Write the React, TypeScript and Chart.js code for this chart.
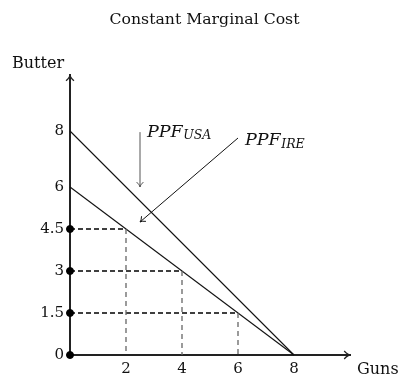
import React, { useEffect, useRef } from "react";
import { Chart, registerables } from "chart.js";

Chart.register(...registerables);

// ---- Data ----
const titleText = "Constant Marginal Cost";
const xAxisLabel = "Guns";
const yAxisLabel = "Butter";
const axisMin = 0;
const axisMax = 10;
const xTicks = [2, 4, 6, 8];
const yTicks = [0, 1.5, 3, 4.5, 6, 8];
const ppfGuns = [0, 8];
const usaButter = [8, 0];
const ireButter = [6, 0];
const tradeGuns = [2, 4, 6];
const tradeButter = [4.5, 3, 1.5];
const dotButter = [0, 1.5, 3, 4.5];
const usaLabel = ["PPF", "USA"];
const ireLabel = ["PPF", "IRE"];
const usaArrowFrom = [2.5, 7.96];
const usaArrowTo = [2.5, 6.0];
const ireArrowFrom = [6.0, 7.75];
const ireArrowTo = [2.5, 4.75];
const usaLabelAt = [2.75, 7.8];
const ireLabelAt = [6.25, 7.5];

const FONT = '"DejaVu Serif", "Liberation Serif", serif';

function arrowHead(ctx: CanvasRenderingContext2D, fx: number, fy: number, tx: number, ty: number, len: number) {
  const ang = Math.atan2(ty - fy, tx - fx);
  const spread = 0.6;
  ctx.beginPath();
  ctx.moveTo(tx - len * Math.cos(ang - spread), ty - len * Math.sin(ang - spread));
  ctx.quadraticCurveTo(tx - len * 0.3 * Math.cos(ang), ty - len * 0.3 * Math.sin(ang), tx, ty);
  ctx.quadraticCurveTo(tx - len * 0.3 * Math.cos(ang), ty - len * 0.3 * Math.sin(ang), tx - len * Math.cos(ang + spread), ty - len * Math.sin(ang + spread));
  ctx.stroke();
}

const decorPlugin = {
  id: "decor",
  afterDraw(chart: any) {
    const ctx: CanvasRenderingContext2D = chart.ctx;
    const xs = chart.scales.x;
    const ys = chart.scales.y;
    const area = chart.chartArea;
    const px = (v: number) => xs.getPixelForValue(v);
    const py = (v: number) => ys.getPixelForValue(v);
    ctx.save();
    // axis arrowheads
    ctx.strokeStyle = "#222";
    ctx.lineWidth = 1.3;
    arrowHead(ctx, area.left, area.bottom, area.right, area.bottom, 7);
    arrowHead(ctx, area.left, area.bottom, area.left, area.top, 7);

    // annotation arrows
    ctx.lineWidth = 1;
    ctx.strokeStyle = "#555";
    ctx.beginPath();
    ctx.moveTo(px(usaArrowFrom[0]), py(usaArrowFrom[1]));
    ctx.lineTo(px(usaArrowTo[0]), py(usaArrowTo[1]));
    ctx.stroke();
    arrowHead(ctx, px(usaArrowFrom[0]), py(usaArrowFrom[1]), px(usaArrowTo[0]), py(usaArrowTo[1]), 6);
    ctx.strokeStyle = "#111";
    ctx.beginPath();
    ctx.moveTo(px(ireArrowFrom[0]), py(ireArrowFrom[1]));
    ctx.lineTo(px(ireArrowTo[0]), py(ireArrowTo[1]));
    ctx.stroke();
    arrowHead(ctx, px(ireArrowFrom[0]), py(ireArrowFrom[1]), px(ireArrowTo[0]), py(ireArrowTo[1]), 6);

    // labels
    ctx.fillStyle = "#111";
    ctx.textBaseline = "alphabetic";
    ctx.textAlign = "left";
    const drawSub = (lbl: string[], at: number[]) => {
      const x = px(at[0]);
      const y = py(at[1]);
      ctx.font = `italic 17.5px ${FONT}`;
      ctx.fillText(lbl[0], x, y);
      const w = ctx.measureText(lbl[0]).width;
      ctx.font = `italic 12.5px ${FONT}`;
      ctx.fillText(lbl[1], x + w + 0.5, y + 2.5);
    };
    drawSub(usaLabel, usaLabelAt);
    drawSub(ireLabel, ireLabelAt);

    ctx.font = `16px ${FONT}`;
    ctx.fillText(yAxisLabel, area.left - 58, area.top - 7);
    ctx.fillText(xAxisLabel, area.right + 7, area.bottom + 19);

    ctx.textAlign = "center";
    ctx.font = `15.7px ${FONT}`;
    ctx.fillText(titleText, chart.width / 2 + 4, 23.5);
    ctx.restore();
  },
};

export default function App() {
  const ref = useRef<HTMLCanvasElement | null>(null);
  useEffect(() => {
    if (!ref.current) return;
    const line = (xv: number[], yv: number[], color: string, dash: number[], width: number) => ({
      type: "line" as const,
      data: xv.map((x, i) => ({ x, y: yv[i] })),
      borderColor: color,
      borderWidth: width,
      borderDash: dash,
      pointRadius: 0,
      showLine: true,
      fill: false,
      clip: false as any,
    });
    const datasets: any[] = [];
    tradeGuns.forEach((g, i) => {
      datasets.push(line([g, g], [tradeButter[i], 0], "#666", [5, 4], 1.3));
    });
    tradeGuns.forEach((g, i) => {
      datasets.push(line([0, g], [tradeButter[i], tradeButter[i]], "#000", [5, 3], 1.4));
    });
    datasets.push(line(ppfGuns, usaButter, "#111", [], 1.1));
    datasets.push(line(ppfGuns, ireButter, "#111", [], 1.1));
    datasets.push({
      type: "scatter",
      data: dotButter.map((b) => ({ x: 0, y: b })),
      backgroundColor: "#000",
      borderColor: "#000",
      pointRadius: 3.5,
      clip: false,
    });

    const chart = new Chart(ref.current, {
      type: "scatter",
      data: { datasets },
      options: {
        animation: false,
        responsive: false,
        events: [],
        layout: { padding: { left: 0, right: 51, top: 75, bottom: 0 } },
        plugins: {
          legend: { display: false },
          tooltip: { enabled: false },
          title: { display: false },
        },
        scales: {
          x: {
            type: "linear",
            min: axisMin,
            max: axisMax,
            grid: { display: false, drawTicks: false },
            border: { display: true, color: "#222", width: 2 },
            afterBuildTicks: (s: any) => {
              s.ticks = xTicks.map((v) => ({ value: v }));
            },
            afterFit: (s: any) => {
              s.height = 27;
            },
            ticks: {
              color: "#111",
              padding: 5,
              font: { family: FONT, size: 15 },
              maxRotation: 0,
              callback: (v: any) => String(v),
            },
          },
          y: {
            type: "linear",
            min: axisMin,
            max: axisMax,
            grid: { display: false, drawTicks: false },
            border: { display: true, color: "#222", width: 2 },
            afterBuildTicks: (s: any) => {
              s.ticks = yTicks.map((v) => ({ value: v }));
            },
            afterFit: (s: any) => {
              s.width = 70;
            },
            ticks: {
              color: "#111",
              padding: 6,
              font: { family: FONT, size: 15 },
              callback: (v: any) => String(v),
            },
          },
        },
      },
      plugins: [decorPlugin],
    } as any);
    return () => chart.destroy();
  }, []);
  return (
    <div style={{ position: "absolute", left: 0, top: 0, width: 401, height: 382, background: "#fff" }}>
      <canvas ref={ref} width={401} height={382} style={{ width: 401, height: 382, display: "block" }} />
    </div>
  );
}
